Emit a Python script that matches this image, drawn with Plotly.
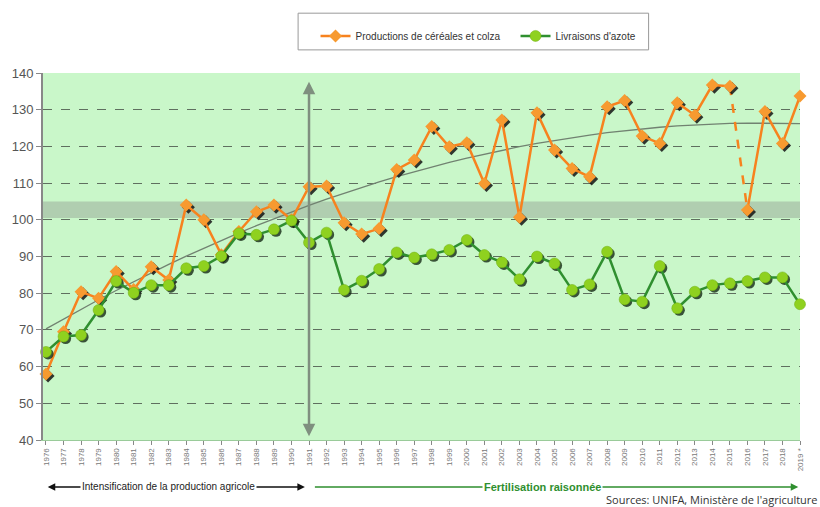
import numpy as np
import plotly.graph_objects as go

years = list(range(1976, 2020))
tick_labels = [str(y) for y in years[:-1]] + ["2019 *"]

cereales = [58, 69.5, 80.4, 78.6, 85.9, 81, 87.2, 83.6, 104, 100, 90.5, 96.8, 102.2, 104, 100,
            109, 109.2, 99.2, 96.1, 97.6, 113.7, 116.3, 125.4, 119.9, 121, 109.9, 127.2, 100.7,
            129.2, 119, 114, 111.7, 130.8, 132.5, 122.8, 120.8, 131.9, 128.5, 136.7, 136.4,
            102.7, 129.5, 120.8, 133.7]
azote = [64, 68.2, 68.6, 75.4, 83.3, 80.1, 82.2, 82.2, 86.8, 87.4, 90.1, 96.3, 95.9, 97.4, 99.8,
         93.8, 96.5, 80.9, 83.4, 86.6, 91.1, 89.7, 90.6, 91.8, 94.5, 90.4, 88.4, 83.8, 90, 88.1,
         80.9, 82.4, 91.3, 78.3, 77.7, 87.4, 75.9, 80.4, 82.2, 82.7, 83.3, 84.3, 84.3, 77]

dashed_years = [2015, 2016]  # segment drawn dashed
pivot_year = 1991
band = [100.5, 105]

ORANGE = "#f7821e"
GREEN_LINE = "#2f8f2f"
GREEN_MK = "#8fd11f"
BG = "#c9f7c9"

fig = go.Figure()

# trend (2nd-order polynomial fit of cereal production)
coef = np.polyfit(np.array(years) - 1976, np.array(cereales), 2)
trend = np.polyval(coef, np.array(years) - 1976)
fig.add_trace(go.Scatter(x=years, y=trend, mode="lines", line=dict(color="#718271", width=1.3),
                         showlegend=False, hoverinfo="skip"))

# orange series: solid except 2015-2016 segment
i15 = years.index(dashed_years[0])
y_or_solid = cereales[:i15 + 1] + [None] + cereales[i15 + 1:]
x_or_solid = years[:i15 + 1] + [None] + years[i15 + 1:]
fig.add_trace(go.Scatter(x=dashed_years, y=[cereales[years.index(v)] for v in dashed_years],
                         mode="lines", line=dict(color=ORANGE, width=2.5, dash="dash"),
                         showlegend=False, hoverinfo="skip"))

sx = 0.12
sy = -0.55
fig.add_trace(go.Scatter(x=[x + sx if x else None for x in x_or_solid],
                         y=[y + sy if y else None for y in y_or_solid], mode="markers",
                         marker=dict(symbol="diamond", size=10, color="rgba(20,20,20,0.85)"),
                         showlegend=False, hoverinfo="skip", cliponaxis=False))
fig.add_trace(go.Scatter(x=x_or_solid, y=y_or_solid, mode="lines+markers", name="Productions de céréales et colza",
                         line=dict(color=ORANGE, width=2.5),
                         marker=dict(symbol="diamond", size=10, color="#f79a30"),
                         connectgaps=False, cliponaxis=False))

fig.add_trace(go.Scatter(x=[x + sx for x in years], y=[y + sy for y in azote], mode="markers",
                         marker=dict(symbol="circle", size=11, color="rgba(20,40,20,0.8)"),
                         showlegend=False, hoverinfo="skip", cliponaxis=False))
fig.add_trace(go.Scatter(x=years, y=azote, mode="lines+markers", name="Livraisons d'azote",
                         line=dict(color=GREEN_LINE, width=2.5),
                         marker=dict(symbol="circle", size=11, color=GREEN_MK,
                                     line=dict(color="#6fae10", width=0.5)), cliponaxis=False))

shapes = [
    dict(type="rect", xref="paper", yref="y", x0=0, x1=1, y0=band[0], y1=band[1],
         fillcolor="#b0ceb0", line=dict(width=0), layer="below"),
    dict(type="rect", xref="paper", yref="paper", x0=0.337, x1=0.8, y0=1.063, y1=1.163,
         fillcolor="white", line=dict(color="#999999", width=1)),
]

annotations = [
    dict(x=pivot_year, y=41, ax=pivot_year, ay=138, xref="x", yref="y", axref="x", ayref="y",
         showarrow=True, arrowhead=2, startarrowhead=2, arrowside="end+start", arrowsize=1,
         arrowwidth=2.5, arrowcolor="#7f8f7f", text=""),
    dict(x=1976.1, y=-0.128, ax=1990.85, ay=0, xref="x", yref="paper", axref="x", ayref="pixel",
         showarrow=True, arrowhead=2, startarrowhead=2, arrowside="end+start", arrowsize=1,
         arrowwidth=1.5, arrowcolor="#111111", text=""),
    dict(x=1983.0, y=-0.128, xref="x", yref="paper", yanchor="middle",
         text="Intensification de la production agricole",
         showarrow=False, bgcolor="white", font=dict(size=10, color="#222222", family="Liberation Sans Narrow, Arial"),
         borderpad=1),
    dict(x=2018.9, y=-0.128, ax=1991.25, ay=0, xref="x", yref="paper", axref="x", ayref="pixel",
         showarrow=True, arrowhead=2, arrowsize=1, arrowwidth=1.5, arrowcolor="#2f8f2f", text=""),
    dict(x=2004.3, y=-0.128, xref="x", yref="paper", yanchor="middle", text="<b>Fertilisation raisonnée</b>",
         showarrow=False, bgcolor="white", font=dict(size=11, color="#2f8f2f", family="Arial"), borderpad=1),
    dict(x=1.027, y=-0.163, xref="paper", yref="paper", yanchor="middle",
         text="Sources: UNIFA, Ministère de l'agriculture",
         showarrow=False, xanchor="right", font=dict(size=11, color="#333333", family="Open Sans")),
]

fig.update_layout(
    width=820, height=507,
    margin=dict(l=40, r=20, t=73, b=67),
    paper_bgcolor="white", plot_bgcolor=BG,
    font=dict(family="Arial", color="#555555"),
    shapes=shapes, annotations=annotations,
    legend=dict(orientation="h", x=0.36, y=1.101, xanchor="left", yanchor="middle",
                bgcolor="rgba(0,0,0,0)", font=dict(size=10, color="#333333", family="Liberation Sans Narrow, Arial"),
                itemwidth=30, entrywidth=155, traceorder="normal"),
    xaxis=dict(range=[1975.83, 2019.0], tickmode="array", tickvals=years, ticktext=tick_labels,
               tickangle=-90, tickfont=dict(size=8, color="#777777"), showgrid=False, zeroline=False,
               ticks="outside", ticklen=4, tickcolor="#888888", showline=True, linecolor="#9acb9a"),
    yaxis=dict(range=[40, 140], tickvals=list(range(40, 141, 10)), tickfont=dict(size=13, color="#555555"),
               showgrid=True, gridcolor="#5f6f5f", griddash="dash", gridwidth=1.3, zeroline=False,
               ticks="outside", ticklen=5, tickcolor="#888888", showline=True, linecolor="#888888", linewidth=2),
)

fig.write_html("out.html", config={"displayModeBar": False},
               post_script="document.body.style.margin='0';document.body.style.overflow='hidden';")
